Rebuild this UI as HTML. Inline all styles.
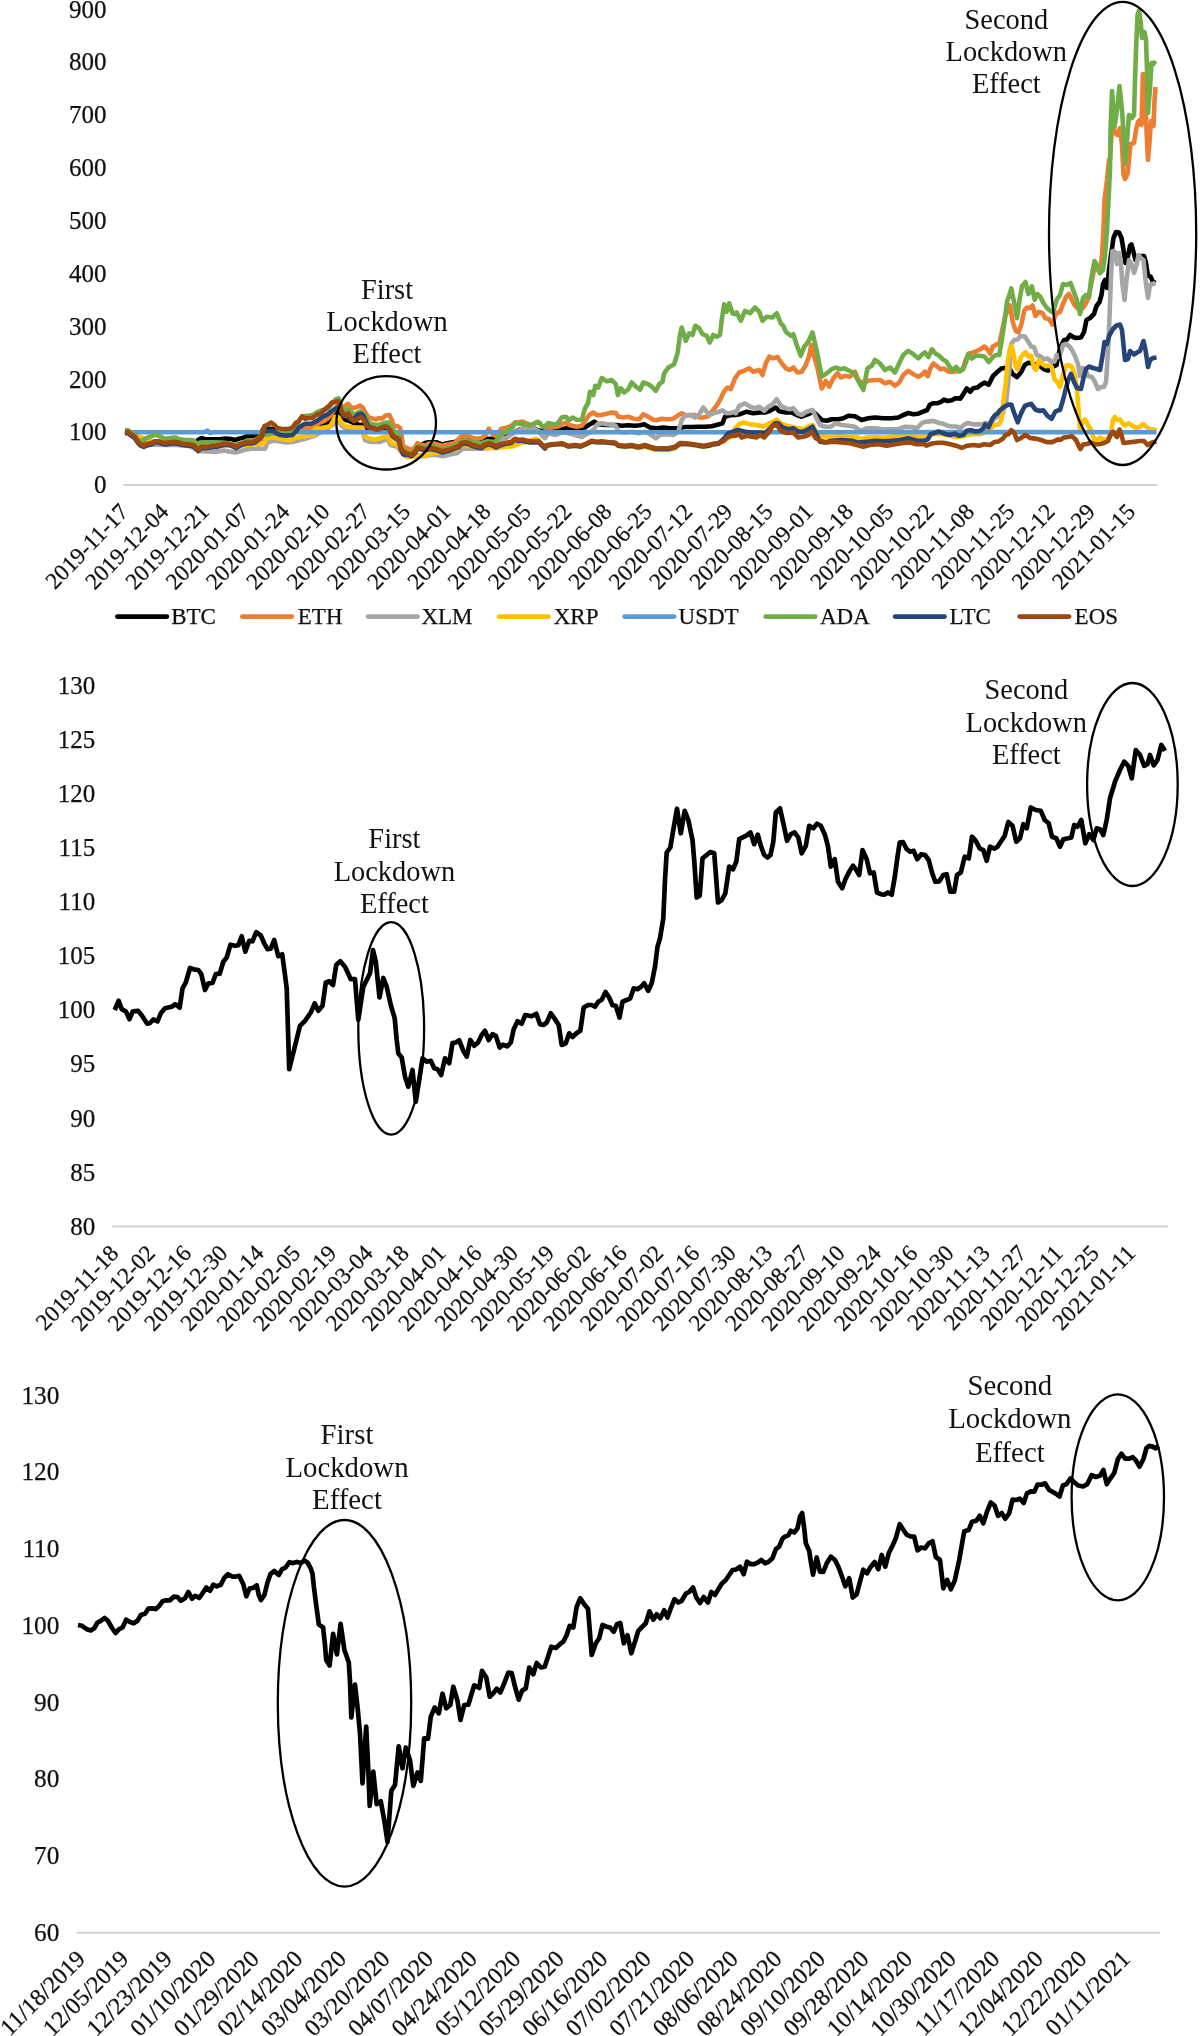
<!DOCTYPE html>
<html><head><meta charset="utf-8"><title>Figure</title>
<style>
html,body{margin:0;padding:0;background:#fff;}
body{width:1200px;height:2036px;overflow:hidden;}
svg{display:block;will-change:transform;}
text{font-family:"Liberation Serif", serif;fill:#111;}
.t{font-size:25px;}
.r{font-size:23.5px;}
.l{font-size:23px;}
.t,.r,.l{stroke:#111;stroke-width:0.25px;}
.a{font-size:28px;text-anchor:middle;}
</style></head><body>
<svg width="1200" height="2036" viewBox="0 0 1200 2036">
<rect width="1200" height="2036" fill="#fff"/>
<line x1="123.3" y1="484.9" x2="1157.5" y2="484.9" stroke="#d2d2d2" stroke-width="2"/>
<text class="t" x="106.6" y="493.2" text-anchor="end">0</text>
<text class="t" x="106.6" y="440.3" text-anchor="end">100</text>
<text class="t" x="106.6" y="387.5" text-anchor="end">200</text>
<text class="t" x="106.6" y="334.6" text-anchor="end">300</text>
<text class="t" x="106.6" y="281.8" text-anchor="end">400</text>
<text class="t" x="106.6" y="228.9" text-anchor="end">500</text>
<text class="t" x="106.6" y="176.1" text-anchor="end">600</text>
<text class="t" x="106.6" y="123.2" text-anchor="end">700</text>
<text class="t" x="106.6" y="70.4" text-anchor="end">800</text>
<text class="t" x="106.6" y="17.5" text-anchor="end">900</text>
<text class="r" style="font-size:23.2px" text-anchor="end" transform="translate(129.6,513.0) rotate(-46)">2019-11-17</text>
<text class="r" style="font-size:23.2px" text-anchor="end" transform="translate(169.9,513.0) rotate(-46)">2019-12-04</text>
<text class="r" style="font-size:23.2px" text-anchor="end" transform="translate(210.2,513.0) rotate(-46)">2019-12-21</text>
<text class="r" style="font-size:23.2px" text-anchor="end" transform="translate(250.4,513.0) rotate(-46)">2020-01-07</text>
<text class="r" style="font-size:23.2px" text-anchor="end" transform="translate(290.7,513.0) rotate(-46)">2020-01-24</text>
<text class="r" style="font-size:23.2px" text-anchor="end" transform="translate(331.0,513.0) rotate(-46)">2020-02-10</text>
<text class="r" style="font-size:23.2px" text-anchor="end" transform="translate(371.3,513.0) rotate(-46)">2020-02-27</text>
<text class="r" style="font-size:23.2px" text-anchor="end" transform="translate(411.6,513.0) rotate(-46)">2020-03-15</text>
<text class="r" style="font-size:23.2px" text-anchor="end" transform="translate(451.8,513.0) rotate(-46)">2020-04-01</text>
<text class="r" style="font-size:23.2px" text-anchor="end" transform="translate(492.1,513.0) rotate(-46)">2020-04-18</text>
<text class="r" style="font-size:23.2px" text-anchor="end" transform="translate(532.4,513.0) rotate(-46)">2020-05-05</text>
<text class="r" style="font-size:23.2px" text-anchor="end" transform="translate(572.7,513.0) rotate(-46)">2020-05-22</text>
<text class="r" style="font-size:23.2px" text-anchor="end" transform="translate(613.0,513.0) rotate(-46)">2020-06-08</text>
<text class="r" style="font-size:23.2px" text-anchor="end" transform="translate(653.2,513.0) rotate(-46)">2020-06-25</text>
<text class="r" style="font-size:23.2px" text-anchor="end" transform="translate(693.5,513.0) rotate(-46)">2020-07-12</text>
<text class="r" style="font-size:23.2px" text-anchor="end" transform="translate(733.8,513.0) rotate(-46)">2020-07-29</text>
<text class="r" style="font-size:23.2px" text-anchor="end" transform="translate(774.1,513.0) rotate(-46)">2020-08-15</text>
<text class="r" style="font-size:23.2px" text-anchor="end" transform="translate(814.4,513.0) rotate(-46)">2020-09-01</text>
<text class="r" style="font-size:23.2px" text-anchor="end" transform="translate(854.6,513.0) rotate(-46)">2020-09-18</text>
<text class="r" style="font-size:23.2px" text-anchor="end" transform="translate(894.9,513.0) rotate(-46)">2020-10-05</text>
<text class="r" style="font-size:23.2px" text-anchor="end" transform="translate(935.2,513.0) rotate(-46)">2020-10-22</text>
<text class="r" style="font-size:23.2px" text-anchor="end" transform="translate(975.5,513.0) rotate(-46)">2020-11-08</text>
<text class="r" style="font-size:23.2px" text-anchor="end" transform="translate(1015.8,513.0) rotate(-46)">2020-11-25</text>
<text class="r" style="font-size:23.2px" text-anchor="end" transform="translate(1056.0,513.0) rotate(-46)">2020-12-12</text>
<text class="r" style="font-size:23.2px" text-anchor="end" transform="translate(1096.3,513.0) rotate(-46)">2020-12-29</text>
<text class="r" style="font-size:23.2px" text-anchor="end" transform="translate(1136.6,513.0) rotate(-46)">2021-01-15</text>
<polyline points="125.0,431.2 131.2,433.8 137.5,440.0 143.8,443.8 152.5,442.5 165.0,442.5 177.5,441.9 190.0,443.1 196.2,442.5 198.1,440.0 201.2,438.1 206.2,439.4 215.0,439.4 221.2,439.0 226.2,438.5 231.2,439.0 235.0,440.0 238.8,438.8 242.5,438.1 246.2,436.2 252.5,436.2 256.2,435.6 260.0,433.8 264.4,427.5 265.0,430.0 271.2,428.8 280.0,431.2 290.0,431.9 296.2,428.8 302.5,426.2 307.5,425.6 311.2,425.6 315.0,424.4 320.0,423.8 325.0,423.1 330.0,422.5 332.5,418.8 335.0,413.8 337.5,410.0 340.0,412.5 342.5,417.5 346.2,420.0 350.0,421.2 355.0,423.8 360.0,425.0 362.5,424.8 365.6,427.5 368.8,428.8 373.8,429.4 380.0,429.4 385.0,428.1 388.8,428.8 392.5,435.0 396.2,437.5 398.8,438.8 400.6,447.5 403.1,451.2 405.0,452.5 406.2,452.5 411.2,453.8 415.0,450.0 417.5,445.6 421.2,445.0 425.0,443.1 428.8,442.2 436.2,442.2 441.9,444.4 445.0,443.8 451.2,442.5 454.4,441.9 458.8,440.6 461.2,438.8 465.0,438.1 472.5,440.0 481.2,440.6 486.2,438.8 492.5,438.8 496.2,440.0 501.2,438.1 507.5,436.2 513.8,432.5 520.0,429.4 526.2,428.1 532.5,427.8 538.8,430.6 545.0,431.9 551.7,431.7 560.0,430.0 568.3,427.5 576.7,428.3 585.0,427.5 590.0,424.2 594.2,421.7 597.5,424.2 606.7,425.0 616.7,425.0 621.7,425.8 628.3,425.3 635.0,425.8 640.0,425.3 644.2,424.2 650.0,427.5 656.7,428.3 663.3,427.5 670.0,428.3 678.3,428.0 685.0,427.0 691.7,427.0 698.3,426.7 705.0,426.7 711.7,426.3 717.5,424.7 722.5,423.3 725.0,416.7 730.0,415.3 735.0,415.0 740.0,414.2 746.7,411.7 753.3,413.3 760.0,412.5 765.0,412.5 770.0,410.8 775.8,407.5 779.2,411.3 785.8,412.5 791.7,412.5 796.7,415.0 801.7,416.7 808.3,414.2 813.3,411.7 816.7,415.0 821.7,420.0 826.7,420.8 831.7,419.2 838.3,419.2 843.3,418.3 848.3,415.8 855.0,416.3 861.7,420.0 868.3,418.3 875.0,417.5 883.3,418.3 891.7,418.3 898.3,417.5 903.3,415.0 908.3,413.0 913.3,414.2 918.3,413.7 925.0,410.8 927.0,410.2 929.9,404.6 933.4,403.2 937.7,403.2 941.2,401.8 944.0,399.6 947.6,401.0 951.8,400.3 955.4,398.2 960.3,398.6 963.9,393.2 966.7,388.3 970.2,391.8 973.1,388.3 977.3,387.6 980.9,384.8 984.4,382.6 988.7,384.8 992.9,376.2 997.2,372.0 1001.4,368.5 1005.7,367.8 1009.2,367.8 1012.8,374.1 1017.0,377.0 1021.2,372.0 1024.8,364.9 1028.3,362.8 1032.6,363.5 1036.8,364.9 1040.4,366.3 1043.9,369.2 1048.2,370.6 1052.4,367.0 1056.7,364.9 1057.0,362.0 1060.0,348.0 1064.0,340.0 1067.0,339.5 1070.0,335.0 1073.0,337.0 1076.0,338.0 1081.0,337.5 1084.0,332.0 1086.5,320.0 1090.0,318.0 1094.0,314.0 1096.5,306.0 1099.5,302.0 1101.5,295.0 1103.0,284.0 1105.0,280.0 1107.0,288.0 1109.0,270.0 1111.0,255.0 1113.5,238.0 1116.0,232.0 1119.0,232.5 1121.5,238.0 1123.5,250.0 1125.5,263.0 1128.0,256.0 1130.0,246.0 1131.5,244.5 1133.5,252.0 1135.5,260.0 1139.0,257.0 1141.5,256.0 1144.0,256.0 1146.0,263.0 1148.0,276.0 1150.5,276.5 1152.5,281.0 1155.0,283.0" fill="none" stroke="#000000" stroke-width="4.6" stroke-linejoin="round" stroke-linecap="butt"/>
<polyline points="125.0,431.9 128.1,431.9 131.2,434.4 135.0,436.9 138.1,441.5 140.6,444.0 143.8,445.0 147.5,443.5 155.0,441.2 162.5,442.5 170.0,442.2 177.5,442.2 185.0,443.8 192.5,444.5 198.1,448.8 201.2,446.5 208.8,446.2 216.2,445.6 223.8,444.0 231.2,444.5 236.2,446.5 240.0,444.5 247.5,442.5 252.5,443.5 258.8,444.4 264.4,440.0 267.5,435.0 273.8,432.5 280.0,433.8 290.0,435.0 296.2,431.2 302.5,427.5 310.0,428.1 315.0,425.6 320.0,422.5 325.0,420.6 330.0,416.2 335.0,408.8 337.5,405.6 340.0,410.0 342.5,408.8 345.6,405.6 348.1,403.8 350.6,406.9 353.8,408.1 356.9,406.9 360.0,405.6 363.1,408.1 366.2,413.8 368.8,417.5 372.5,418.5 376.2,419.4 378.8,418.1 381.9,418.8 385.6,415.6 389.4,415.0 391.9,420.0 393.8,426.2 397.5,426.2 400.0,428.1 401.5,435.0 402.8,445.0 405.0,447.5 406.2,447.5 411.2,450.0 415.0,447.5 417.5,443.1 421.2,445.0 425.0,445.6 428.8,443.8 432.5,443.1 437.5,444.4 441.9,445.6 445.0,445.0 450.0,444.0 454.4,443.1 458.8,438.8 461.2,436.2 465.0,435.6 468.8,436.0 472.5,438.1 477.5,438.8 481.2,438.1 485.0,435.6 488.8,428.8 492.5,433.8 495.0,435.6 498.8,432.5 501.2,428.8 505.0,428.1 508.8,426.9 512.5,425.0 515.0,422.2 518.8,422.5 522.5,421.5 526.2,423.1 530.0,425.0 533.8,424.4 537.5,422.2 540.0,423.5 542.5,426.9 545.0,426.2 551.7,427.5 557.5,426.7 561.7,424.2 565.8,422.5 569.2,425.0 576.7,426.7 581.7,425.8 585.8,420.0 589.2,415.0 593.3,412.5 597.5,415.3 601.7,414.7 606.7,413.7 611.7,412.5 615.8,413.0 618.3,416.7 623.3,417.5 628.3,416.7 633.3,418.7 639.2,419.2 643.3,414.2 648.3,416.7 653.3,419.7 656.7,420.3 661.7,418.7 666.7,419.2 673.3,418.7 677.5,415.8 681.7,413.3 685.8,415.0 690.8,415.3 695.0,415.0 699.2,417.5 703.3,417.5 708.3,416.3 711.7,411.7 715.8,406.7 720.0,400.0 724.2,391.3 727.5,387.5 730.8,389.2 735.0,378.3 739.2,372.5 744.2,370.8 749.2,368.3 753.3,371.7 759.2,370.0 762.5,375.0 765.8,363.3 769.2,356.7 773.3,358.3 777.5,357.0 781.7,363.3 785.8,368.3 790.0,370.0 793.3,367.5 797.5,372.5 801.7,371.7 805.8,365.0 809.2,355.8 811.3,345.0 814.2,356.7 817.5,368.3 821.7,388.3 825.8,380.8 829.2,386.7 833.3,378.3 837.5,373.3 840.8,377.5 845.0,375.8 850.0,376.7 855.0,371.7 858.3,380.0 863.3,383.3 868.3,380.8 875.0,380.0 880.0,380.0 885.0,383.3 890.0,381.7 895.0,385.8 899.2,382.5 903.3,375.0 908.3,370.8 913.3,374.2 918.3,376.7 922.5,374.2 925.0,371.7 927.8,376.2 930.6,367.8 933.4,363.5 937.0,366.3 940.5,369.2 944.0,368.5 947.6,371.3 951.8,372.0 956.1,371.3 960.3,371.3 963.2,367.8 965.3,360.7 968.8,353.6 971.7,352.9 975.9,351.5 980.2,349.3 984.4,346.5 988.0,350.0 990.1,353.6 992.9,346.5 996.5,344.4 999.3,343.7 1002.1,330.9 1005.0,316.8 1007.1,311.1 1009.9,305.4 1012.8,322.4 1015.6,330.9 1018.4,332.3 1021.2,325.2 1024.1,311.1 1026.9,307.5 1029.8,308.2 1032.6,305.4 1035.4,316.0 1039.0,311.8 1042.5,313.2 1045.3,318.2 1048.9,318.9 1052.4,324.5 1055.2,315.3 1059.5,311.1 1060.0,312.0 1063.0,304.0 1066.0,297.0 1069.0,294.0 1072.0,300.0 1075.0,306.0 1077.5,308.0 1081.0,310.0 1085.0,305.0 1088.5,298.0 1091.0,285.0 1094.0,270.0 1097.0,268.0 1100.0,273.0 1102.0,255.0 1103.5,230.0 1104.5,200.0 1107.0,180.0 1109.0,160.0 1110.0,160.0 1111.5,135.0 1113.0,125.0 1115.0,133.0 1117.5,135.0 1120.0,128.0 1122.0,145.0 1123.5,175.0 1125.0,179.0 1127.5,174.0 1129.5,155.0 1130.5,144.0 1134.0,143.0 1136.0,130.0 1138.0,122.0 1140.0,120.0 1141.5,125.0 1142.5,90.0 1143.0,74.0 1144.5,100.0 1146.0,118.0 1147.2,145.0 1148.0,160.0 1149.5,142.0 1151.0,121.0 1153.5,126.0 1154.5,100.0 1155.5,87.0" fill="none" stroke="#ed7d31" stroke-width="4.6" stroke-linejoin="round" stroke-linecap="butt"/>
<polyline points="125.0,431.9 131.2,434.4 138.1,442.5 143.8,446.2 152.5,444.4 165.0,445.0 177.5,445.0 190.0,446.2 197.5,450.6 202.5,451.2 215.0,451.9 223.8,450.6 235.0,452.5 240.0,451.2 246.2,449.4 252.5,448.8 265.0,448.8 267.5,442.5 273.8,440.6 286.2,442.5 292.5,441.9 305.0,438.8 315.0,435.6 325.0,430.0 332.5,425.0 335.6,420.0 338.1,420.6 341.2,425.0 345.0,428.1 355.0,429.4 362.5,430.0 365.0,440.0 370.0,441.9 380.0,441.9 387.5,438.8 390.6,445.0 397.5,446.9 400.6,451.2 403.1,454.4 405.0,455.6 407.5,456.9 417.5,456.2 425.0,456.2 432.5,454.8 437.5,455.0 442.5,456.2 450.0,454.4 457.5,453.1 462.5,448.8 470.0,448.8 482.5,448.8 492.5,447.5 497.5,443.8 501.2,438.8 507.5,437.5 513.8,432.5 520.0,430.0 522.5,428.1 527.5,427.5 532.5,428.1 538.8,431.2 542.5,436.2 545.0,438.1 548.3,433.3 555.0,435.0 561.7,432.5 568.3,433.3 575.0,435.0 581.7,437.0 588.3,433.3 593.3,430.0 597.5,424.2 601.7,423.3 606.7,424.2 611.7,424.7 615.8,425.8 618.3,431.7 625.0,432.5 631.7,431.7 638.3,433.3 645.0,431.7 650.0,434.2 655.8,438.3 660.0,435.0 666.7,434.2 673.3,435.0 678.3,431.7 681.7,420.0 685.0,415.8 690.0,414.7 695.0,417.5 699.2,414.2 703.3,407.5 709.2,415.0 714.2,413.0 718.3,412.0 722.5,410.3 726.7,413.3 730.8,413.0 735.0,411.7 735.8,413.3 739.2,405.8 745.0,403.3 750.0,406.7 755.0,408.3 759.2,406.7 764.2,410.8 768.3,406.7 772.5,404.2 776.7,399.2 780.8,405.8 785.8,408.3 790.0,409.2 793.3,408.3 797.5,413.3 801.7,415.0 806.7,411.7 812.5,410.0 815.8,416.7 820.0,425.0 825.0,426.7 830.8,426.7 835.8,423.3 841.7,425.0 848.3,425.8 855.0,426.7 860.0,430.8 866.7,428.3 875.0,428.3 883.3,429.2 891.7,429.2 898.3,429.2 905.0,426.7 911.7,427.0 916.7,428.3 921.7,423.3 925.0,421.7 927.8,421.6 933.4,420.9 939.1,423.0 943.3,423.7 947.6,425.8 951.8,426.5 956.1,426.5 960.3,428.0 964.6,424.4 968.1,423.0 973.1,424.4 977.3,424.4 981.6,424.4 985.8,423.0 990.1,423.7 994.3,418.8 998.6,415.9 1002.8,413.1 1006.4,400.3 1009.2,372.0 1011.3,343.7 1014.2,340.1 1017.7,339.4 1020.5,335.9 1024.8,336.6 1027.6,340.8 1031.2,346.5 1034.0,347.2 1036.8,355.0 1040.4,356.4 1043.9,359.2 1047.5,358.5 1051.7,362.1 1054.5,361.4 1056.7,355.0 1058.8,357.1 1060.0,355.0 1063.0,345.0 1066.0,344.0 1069.0,346.0 1072.0,350.0 1075.0,356.0 1078.0,364.0 1080.0,376.0 1082.5,368.0 1085.0,369.0 1088.0,376.0 1092.0,377.0 1095.0,382.0 1098.0,389.0 1101.0,387.0 1104.0,387.0 1106.0,382.0 1107.5,360.0 1109.0,330.0 1110.5,290.0 1111.5,265.0 1112.5,251.0 1115.0,252.0 1117.0,264.0 1119.0,253.0 1121.0,265.0 1122.5,285.0 1124.5,300.0 1126.5,280.0 1129.0,260.0 1132.0,265.0 1134.0,273.0 1136.5,265.0 1138.5,255.0 1141.0,258.0 1143.5,260.0 1145.5,280.0 1148.0,298.0 1150.0,285.0 1152.5,284.0 1155.5,283.0" fill="none" stroke="#a5a5a5" stroke-width="4.6" stroke-linejoin="round" stroke-linecap="butt"/>
<polyline points="125.0,431.2 131.2,433.8 135.0,435.6 139.4,436.9 143.8,438.1 147.5,440.0 152.5,441.2 158.8,441.9 165.0,442.5 175.0,442.5 185.0,443.1 192.5,443.8 197.5,448.1 202.5,446.9 212.5,446.2 221.2,445.0 231.2,445.6 236.2,447.5 243.8,445.0 251.2,444.4 258.8,443.8 264.4,443.1 266.2,438.1 273.8,437.5 280.0,438.8 290.0,440.6 296.2,437.5 305.0,436.2 313.8,435.0 315.0,428.8 325.0,427.5 330.0,426.2 333.1,421.2 335.0,416.9 338.8,417.5 341.2,422.5 345.0,426.2 355.0,427.5 362.5,427.5 365.0,436.2 367.5,438.1 375.0,439.4 382.5,437.5 387.5,436.2 390.6,441.2 392.5,443.8 397.5,444.4 400.6,450.0 403.1,453.1 405.0,455.0 407.5,456.9 420.0,455.0 426.2,455.6 432.5,453.1 437.5,452.5 441.9,451.9 450.0,450.6 457.5,448.8 462.5,445.0 470.0,446.2 482.5,447.5 495.0,448.1 503.8,446.9 513.8,446.2 520.0,443.1 526.2,441.9 536.2,438.8 538.8,441.2 542.5,445.0 545.0,447.5 546.7,445.8 551.7,445.0 557.5,444.3 562.5,444.0 568.3,446.7 575.0,445.8 580.8,446.7 586.7,444.2 591.7,441.7 596.7,442.5 601.7,442.0 608.3,442.7 615.0,443.3 618.3,446.0 625.0,447.0 631.7,446.3 638.3,448.0 645.0,446.7 650.0,448.3 655.0,449.7 661.7,450.0 668.3,450.0 675.0,448.3 680.0,444.2 685.0,444.3 690.0,444.7 696.7,445.7 703.3,446.7 708.3,446.0 713.3,444.7 718.3,443.7 723.3,441.7 728.3,437.7 733.3,436.2 735.0,428.3 739.2,424.2 743.3,422.5 750.0,424.2 756.7,425.0 763.3,426.7 769.2,423.3 773.3,421.7 776.7,419.7 780.8,423.3 786.7,425.8 791.7,426.7 798.3,428.3 803.3,429.2 808.3,426.7 812.5,425.0 815.8,430.8 820.0,435.8 828.3,436.7 838.3,436.3 848.3,436.7 856.7,437.0 861.7,439.2 866.7,437.5 875.0,437.0 883.3,437.5 891.7,436.7 900.0,435.8 908.3,435.0 916.7,436.7 925.0,436.7 926.3,436.5 929.2,434.3 936.2,433.6 943.3,434.3 950.4,435.8 957.5,437.2 964.6,435.8 971.7,434.3 978.8,434.3 984.4,432.9 990.1,428.7 994.3,425.1 998.6,424.4 1001.4,420.2 1003.5,400.3 1005.7,383.3 1007.8,362.1 1009.9,348.6 1011.3,345.8 1013.5,353.6 1015.6,366.3 1017.7,369.2 1020.5,357.8 1022.7,355.0 1025.5,352.2 1028.3,356.4 1031.2,355.7 1034.0,367.8 1036.1,369.9 1039.0,360.0 1042.5,364.2 1046.0,366.3 1048.9,365.6 1051.7,367.0 1054.5,379.1 1058.1,383.3 1060.0,387.0 1063.0,375.0 1066.0,366.0 1069.0,365.0 1072.0,367.0 1075.0,376.0 1077.0,390.0 1078.5,410.0 1080.0,429.0 1082.5,422.0 1085.0,419.5 1088.0,425.0 1091.0,430.0 1094.0,439.0 1097.0,440.0 1100.0,437.5 1104.0,440.0 1108.0,438.0 1111.0,433.0 1113.0,420.0 1114.8,417.0 1117.5,420.0 1120.0,419.5 1123.0,424.0 1125.5,425.5 1128.5,423.0 1132.0,425.5 1136.0,428.0 1140.0,427.0 1143.0,424.0 1146.0,426.5 1150.0,429.5 1154.0,429.5 1156.5,430.0" fill="none" stroke="#ffc000" stroke-width="4.6" stroke-linejoin="round" stroke-linecap="butt"/>
<polyline points="125.0,432.2 204.0,432.2 207.5,430.6 210.0,433.0 212.5,432.2 400.0,432.2 700.0,432.2 1000.0,432.1 1156.5,432.2" fill="none" stroke="#5b9bd5" stroke-width="4.6" stroke-linejoin="round" stroke-linecap="butt"/>
<polyline points="125.0,430.6 128.1,430.2 131.2,433.1 135.0,435.6 138.1,440.0 141.2,441.2 146.2,438.1 151.2,436.2 155.6,434.8 160.0,436.2 165.0,438.8 170.0,438.1 175.0,437.5 180.0,439.4 185.0,440.0 190.0,440.0 193.8,440.6 196.9,443.8 200.0,442.5 205.0,442.2 212.5,442.2 221.2,442.5 227.5,443.1 233.8,445.0 240.0,443.1 247.5,441.2 255.0,440.0 258.8,437.5 261.9,434.4 264.4,427.5 266.2,435.0 271.2,433.8 280.0,433.1 288.8,432.5 293.8,428.8 297.5,423.8 300.0,418.8 305.0,416.0 310.0,415.6 313.8,414.4 317.5,411.9 322.5,410.0 327.5,408.8 330.0,406.2 333.1,402.5 335.6,399.4 338.8,398.5 340.6,403.8 342.5,408.1 345.0,411.9 348.1,409.4 351.2,411.9 353.8,415.0 358.8,411.9 362.5,411.9 366.2,417.5 368.8,422.5 372.5,424.4 377.5,425.0 382.5,423.8 386.2,422.5 389.4,422.5 392.5,428.8 396.2,433.8 398.8,435.0 400.6,445.0 403.1,450.0 405.0,452.5 406.2,451.9 411.2,453.8 415.0,450.6 417.5,446.2 421.2,446.9 425.0,448.1 428.8,446.2 432.5,446.2 437.5,447.5 441.9,449.4 445.0,448.8 450.0,447.5 454.4,445.6 458.8,443.8 461.2,441.2 465.0,440.0 472.5,442.2 481.2,443.1 487.5,441.2 492.5,441.9 496.2,441.2 499.4,436.2 502.5,433.8 506.2,431.9 508.8,429.4 512.5,427.5 515.0,423.1 518.8,423.8 522.5,423.5 526.2,425.0 530.0,425.6 533.8,423.5 537.5,421.9 540.0,423.1 542.5,426.9 545.0,426.2 548.3,423.0 553.3,424.2 557.5,423.7 561.7,417.5 565.8,416.7 569.2,420.3 572.5,417.5 576.7,419.7 581.7,420.0 585.0,408.3 588.0,403.3 590.0,391.7 593.3,395.0 595.3,385.8 598.3,387.5 601.7,378.0 606.7,381.3 611.7,380.0 615.8,384.2 617.8,395.0 620.8,388.3 624.2,392.5 628.3,389.2 631.7,382.5 635.8,386.7 640.0,389.7 643.3,382.5 648.3,384.2 651.7,386.7 655.8,390.8 659.2,384.2 662.5,381.7 664.2,373.3 668.3,367.5 674.2,364.2 677.5,353.3 680.0,335.0 681.7,327.5 685.8,340.8 689.2,333.3 692.5,335.0 695.3,325.8 699.2,328.3 702.5,334.2 706.7,335.8 709.7,342.5 713.3,335.0 716.7,336.7 720.0,335.0 721.7,320.0 724.2,304.2 726.7,311.7 729.2,303.3 732.5,313.3 735.0,314.2 736.7,312.5 740.8,320.8 745.0,310.8 750.0,313.3 755.0,307.5 759.2,311.7 762.5,320.8 766.7,316.7 772.5,317.5 776.7,313.3 780.8,323.3 783.3,325.8 785.8,331.7 790.8,335.8 793.3,334.2 796.7,345.0 800.8,355.8 804.2,346.7 808.3,341.7 812.5,332.5 815.8,346.7 818.3,358.3 821.7,376.7 826.7,373.3 831.7,369.2 835.8,367.5 840.0,369.2 844.2,368.3 849.2,370.8 854.2,373.3 858.3,380.8 863.3,390.0 867.5,368.3 871.7,365.8 875.0,360.0 880.0,363.3 885.0,370.0 890.0,367.5 895.0,372.5 899.2,363.3 903.3,355.0 908.3,350.8 913.3,354.2 918.3,358.3 922.5,354.2 925.0,352.5 928.5,357.1 932.0,349.3 935.5,353.6 939.1,355.7 942.6,359.2 946.2,361.4 949.7,367.0 952.5,370.6 956.1,367.0 959.6,371.3 963.2,369.2 966.0,362.1 968.1,354.3 971.7,358.5 975.9,355.7 980.2,355.7 984.4,356.4 988.7,362.1 992.2,357.8 995.8,355.0 999.3,355.0 1002.1,338.0 1005.0,318.2 1007.1,301.2 1009.2,295.5 1011.3,288.4 1014.2,302.6 1017.0,318.2 1019.8,298.3 1022.0,286.3 1025.5,282.0 1028.3,294.1 1031.9,286.3 1034.7,299.8 1037.5,294.1 1040.4,296.9 1043.2,302.6 1046.0,306.8 1049.6,310.4 1053.1,312.5 1056.7,299.8 1060.0,295.0 1063.0,284.0 1067.0,285.0 1070.5,283.0 1073.5,291.0 1076.5,299.0 1080.0,314.0 1083.0,298.0 1086.0,295.0 1089.0,297.0 1091.0,280.0 1094.5,261.0 1097.0,265.0 1100.0,273.0 1103.0,270.0 1105.0,255.0 1107.0,230.0 1108.5,200.0 1110.0,170.0 1110.5,130.0 1112.0,91.0 1114.5,127.0 1117.0,110.0 1119.5,86.0 1122.0,110.0 1124.0,140.0 1125.0,164.0 1127.0,140.0 1129.0,115.0 1132.0,118.0 1134.0,115.0 1135.0,80.0 1136.0,50.0 1137.5,15.0 1139.0,10.5 1140.5,20.0 1142.0,38.0 1144.5,32.0 1146.0,40.0 1147.0,70.0 1148.0,113.0 1150.0,88.0 1151.5,63.0 1153.5,64.0 1155.5,61.0" fill="none" stroke="#70ad47" stroke-width="4.6" stroke-linejoin="round" stroke-linecap="butt"/>
<polyline points="125.0,433.1 128.1,433.1 131.2,435.6 135.0,438.1 138.1,443.1 140.6,445.6 143.8,446.9 147.5,445.0 151.2,444.4 155.0,442.5 158.8,442.5 162.5,443.8 166.2,444.4 170.0,443.5 173.8,443.1 177.5,443.5 181.2,444.8 185.0,445.2 188.8,445.6 192.5,446.0 195.0,447.5 198.1,451.0 201.2,448.1 205.0,448.1 208.8,447.8 212.5,447.2 216.2,446.9 220.0,446.0 223.8,445.0 227.5,444.8 231.2,445.6 233.8,446.9 236.2,448.1 240.0,445.6 243.8,444.4 247.5,443.1 251.2,443.5 255.0,442.5 258.8,439.4 261.9,436.2 264.4,427.5 265.0,431.2 272.5,430.6 276.2,433.1 280.0,435.0 286.2,435.6 292.5,435.0 296.2,431.2 298.8,427.5 305.0,423.8 311.2,423.8 317.5,420.6 322.5,416.9 327.5,414.4 332.5,410.6 336.2,408.1 338.8,406.9 341.2,411.9 343.8,416.2 347.5,416.9 350.0,419.4 353.8,418.8 357.5,415.0 361.2,413.8 363.8,416.2 366.2,422.5 368.8,426.9 372.5,428.1 376.2,429.4 380.0,428.8 383.8,426.9 386.9,426.9 390.0,430.6 392.5,436.2 395.6,438.8 398.8,440.0 400.6,448.8 403.1,453.8 405.0,455.0 406.2,454.2 411.2,456.1 415.0,453.0 417.5,448.6 421.2,449.2 425.0,450.5 428.8,449.2 432.5,449.2 437.5,450.5 441.9,452.4 445.0,451.8 450.0,450.5 454.4,448.6 458.8,447.4 461.2,444.2 465.0,443.4 468.8,444.2 472.5,446.1 477.5,447.4 481.2,448.0 485.0,445.5 488.8,444.2 492.5,445.5 496.2,447.4 500.0,445.5 503.8,444.2 507.5,443.6 511.2,443.0 515.0,439.9 518.8,441.1 522.5,440.5 526.2,441.8 530.0,442.4 533.8,442.4 538.8,442.1 542.5,446.1 545.0,448.6 546.7,445.7 551.7,444.8 557.5,444.3 562.5,444.0 568.3,446.5 575.0,445.7 580.8,446.5 586.7,444.0 591.7,441.5 596.7,442.3 601.7,442.0 608.3,442.7 615.0,443.2 618.3,445.7 625.0,446.5 631.7,445.7 638.3,447.3 645.0,445.7 650.0,447.3 655.0,448.7 661.7,449.0 668.3,449.0 675.0,447.3 680.0,443.7 685.0,444.0 690.0,444.3 696.7,445.3 703.3,446.5 708.3,445.7 713.3,444.3 718.3,443.7 723.3,439.2 728.3,433.3 735.0,430.8 738.3,430.0 745.0,431.7 751.7,432.5 758.3,432.5 765.0,433.3 770.0,428.3 775.0,423.3 778.3,423.3 782.5,427.5 788.3,429.2 793.3,428.3 798.3,431.7 803.3,431.7 808.3,429.2 812.5,426.7 815.8,433.3 820.0,441.7 825.0,442.5 831.7,440.8 841.7,440.0 851.7,440.8 858.3,442.5 866.7,441.7 875.0,440.8 883.3,441.3 891.7,440.8 900.0,440.0 908.3,438.3 916.7,440.8 925.0,440.8 927.8,439.3 930.6,434.3 934.8,432.9 938.4,431.5 942.6,432.9 946.2,434.3 950.4,435.0 954.7,433.6 958.9,435.8 963.2,435.0 966.7,430.8 971.0,430.1 975.9,431.5 980.2,430.8 983.7,428.0 985.1,424.4 988.7,427.2 992.2,418.8 995.0,415.2 997.9,413.1 1000.0,410.2 1004.2,406.7 1008.5,404.6 1011.3,404.6 1014.2,413.1 1017.7,422.3 1021.2,413.1 1024.8,406.0 1028.3,404.6 1031.2,403.9 1035.4,409.5 1039.7,411.0 1043.2,410.2 1047.5,415.9 1051.7,418.8 1055.2,411.7 1058.8,410.2 1060.0,410.0 1063.0,400.0 1066.0,388.0 1068.5,379.0 1071.0,374.0 1074.0,382.0 1077.0,388.0 1081.0,389.0 1083.5,378.0 1086.0,369.0 1089.0,366.5 1093.0,368.0 1097.0,369.0 1100.0,370.0 1102.5,356.0 1104.5,342.0 1107.0,344.0 1109.5,335.0 1113.0,329.0 1116.5,325.5 1120.0,324.5 1122.0,330.0 1123.5,345.0 1125.0,360.0 1128.0,359.0 1130.0,351.0 1134.0,354.5 1137.0,352.5 1140.0,351.0 1143.5,341.0 1145.5,350.0 1148.0,367.0 1150.0,360.0 1153.0,358.0 1156.5,357.5" fill="none" stroke="#264478" stroke-width="4.6" stroke-linejoin="round" stroke-linecap="butt"/>
<polyline points="125.0,431.9 128.1,431.9 131.2,434.4 135.0,436.9 138.1,441.9 140.6,444.4 143.8,445.6 147.5,443.8 151.2,443.1 155.0,441.2 158.8,441.2 162.5,442.5 166.2,443.1 170.0,442.2 173.8,441.9 177.5,442.2 181.2,443.5 185.0,444.0 188.8,444.4 192.5,444.8 195.0,446.2 198.1,449.8 201.2,446.9 205.0,446.9 208.8,446.5 212.5,446.0 216.2,445.6 220.0,444.8 223.8,443.8 227.5,443.5 231.2,444.4 233.8,445.6 236.2,446.9 240.0,444.4 243.8,443.1 247.5,441.9 251.2,442.2 255.0,441.2 258.8,438.1 261.9,435.0 264.4,426.2 267.5,424.8 271.2,422.5 274.4,425.0 277.5,428.1 281.2,428.8 285.0,429.0 288.8,428.8 292.5,427.5 295.6,423.1 298.8,421.2 302.2,416.2 305.0,418.8 308.8,418.1 312.5,417.8 316.2,415.0 320.0,413.8 323.1,411.2 326.2,408.1 329.4,405.6 331.9,402.5 335.0,401.9 338.1,401.2 340.0,405.0 341.2,410.0 343.8,414.4 346.2,415.6 348.1,413.1 350.0,416.2 353.8,421.2 357.5,419.4 360.6,416.9 363.8,420.0 366.2,425.0 368.8,427.5 372.5,428.1 376.2,429.4 380.0,428.8 383.8,426.9 386.9,426.9 390.0,430.0 392.5,435.0 395.6,437.5 398.8,438.8 400.6,447.5 403.1,451.2 405.0,453.1 406.2,453.1 411.2,455.0 415.0,451.9 417.5,447.5 421.2,448.1 425.0,449.4 428.8,448.1 432.5,448.1 437.5,449.4 441.9,451.2 445.0,450.6 450.0,449.4 454.4,447.5 458.8,446.2 461.2,443.1 465.0,442.2 468.8,443.1 472.5,445.0 477.5,446.2 481.2,446.9 485.0,444.4 488.8,443.1 492.5,444.4 496.2,446.2 500.0,444.4 503.8,443.1 507.5,442.5 511.2,441.9 515.0,438.8 518.8,440.0 522.5,439.4 526.2,440.6 530.0,441.2 533.8,441.2 538.8,441.0 542.5,445.0 545.0,447.5 546.7,445.0 551.7,444.2 557.5,443.7 562.5,443.3 568.3,445.8 575.0,445.0 580.8,445.8 586.7,443.3 591.7,440.8 596.7,441.7 601.7,441.3 608.3,442.0 615.0,442.5 618.3,445.0 625.0,445.8 631.7,445.0 638.3,446.7 645.0,445.0 650.0,446.7 655.0,448.0 661.7,448.3 668.3,448.3 675.0,446.7 680.0,443.0 685.0,443.3 690.0,443.7 696.7,444.7 703.3,445.8 708.3,445.0 713.3,443.7 718.3,443.0 723.3,440.8 728.3,436.7 733.3,435.3 735.0,435.8 739.2,434.2 741.7,437.5 746.7,435.8 751.7,436.7 756.7,437.5 760.0,435.0 764.2,437.5 769.2,431.7 772.5,425.8 776.7,424.7 780.8,430.8 786.7,433.0 793.3,432.5 798.3,437.5 803.3,436.7 808.3,435.0 811.7,431.7 815.8,438.3 820.8,440.8 826.7,442.5 833.3,441.7 841.7,442.5 850.0,443.3 856.7,445.0 863.3,446.7 870.0,445.0 878.3,444.2 886.7,445.8 895.0,444.2 903.3,443.0 910.0,442.5 916.7,444.2 925.0,444.2 926.3,445.7 932.0,443.5 937.7,442.8 943.3,442.8 950.4,444.2 956.1,445.7 961.8,447.8 967.4,445.7 973.1,445.0 978.8,445.7 984.4,444.2 990.1,445.0 994.3,442.1 998.6,441.4 1002.8,438.6 1005.7,435.0 1008.5,434.3 1011.3,430.1 1014.2,432.9 1017.0,440.0 1021.2,437.9 1025.5,435.0 1029.8,437.9 1035.4,438.6 1041.1,440.0 1046.8,442.1 1052.4,442.1 1058.1,439.3 1060.0,440.0 1064.0,437.5 1068.0,437.0 1072.0,436.2 1076.0,440.0 1078.5,445.5 1080.5,449.0 1083.0,444.5 1087.0,444.0 1091.0,442.5 1095.0,444.5 1100.0,444.0 1104.0,443.0 1108.0,441.0 1111.0,434.0 1113.0,432.0 1117.0,437.0 1119.5,429.5 1121.5,435.0 1123.5,443.0 1128.0,442.5 1132.0,442.0 1136.0,441.5 1140.0,441.0 1144.0,441.0 1147.5,445.0 1151.0,443.0 1154.0,442.0 1156.5,441.5" fill="none" stroke="#9e480e" stroke-width="4.6" stroke-linejoin="round" stroke-linecap="butt"/>
<line x1="117.4" y1="616.6" x2="166.8" y2="616.6" stroke="#000000" stroke-width="4.8" stroke-linecap="round"/>
<text class="l" x="171.2" y="623.6">BTC</text>
<line x1="242.4" y1="616.6" x2="291.8" y2="616.6" stroke="#ed7d31" stroke-width="4.8" stroke-linecap="round"/>
<text class="l" x="297.8" y="623.6">ETH</text>
<line x1="368.1" y1="616.6" x2="417.5" y2="616.6" stroke="#a5a5a5" stroke-width="4.8" stroke-linecap="round"/>
<text class="l" x="421.4" y="623.6">XLM</text>
<line x1="499.1" y1="616.6" x2="548.5" y2="616.6" stroke="#ffc000" stroke-width="4.8" stroke-linecap="round"/>
<text class="l" x="553.7" y="623.6">XRP</text>
<line x1="624.7" y1="616.6" x2="674.1" y2="616.6" stroke="#5b9bd5" stroke-width="4.8" stroke-linecap="round"/>
<text class="l" x="678.6" y="623.6">USDT</text>
<line x1="765.7" y1="616.6" x2="815.1" y2="616.6" stroke="#70ad47" stroke-width="4.8" stroke-linecap="round"/>
<text class="l" x="820.0" y="623.6">ADA</text>
<line x1="895.1" y1="616.6" x2="944.5" y2="616.6" stroke="#264478" stroke-width="4.8" stroke-linecap="round"/>
<text class="l" x="949.6" y="623.6">LTC</text>
<line x1="1019.7" y1="616.6" x2="1069.1" y2="616.6" stroke="#9e480e" stroke-width="4.8" stroke-linecap="round"/>
<text class="l" x="1074.6" y="623.6">EOS</text>
<ellipse cx="386.2" cy="422.8" rx="49.8" ry="46.7" fill="none" stroke="#000" stroke-width="2.3"/>
<text class="a" style="font-size:28.4px" x="387" y="299">First</text>
<text class="a" style="font-size:28.4px" x="387" y="331.2">Lockdown</text>
<text class="a" style="font-size:28.4px" x="387" y="363.2">Effect</text>
<ellipse cx="1122.6" cy="233.4" rx="73.6" ry="231.6" fill="none" stroke="#000" stroke-width="2.3"/>
<text class="a" style="font-size:28.4px" x="1006.3" y="28.5">Second</text>
<text class="a" style="font-size:28.4px" x="1006.3" y="61">Lockdown</text>
<text class="a" style="font-size:28.4px" x="1006.3" y="93.1">Effect</text>
<line x1="112.3" y1="1226.4" x2="1168" y2="1226.4" stroke="#d2d2d2" stroke-width="2"/>
<text class="t" x="95.2" y="1234.6" text-anchor="end">80</text>
<text class="t" x="95.2" y="1180.5" text-anchor="end">85</text>
<text class="t" x="95.2" y="1126.5" text-anchor="end">90</text>
<text class="t" x="95.2" y="1072.4" text-anchor="end">95</text>
<text class="t" x="95.2" y="1018.4" text-anchor="end">100</text>
<text class="t" x="95.2" y="964.3" text-anchor="end">105</text>
<text class="t" x="95.2" y="910.2" text-anchor="end">110</text>
<text class="t" x="95.2" y="856.2" text-anchor="end">115</text>
<text class="t" x="95.2" y="802.1" text-anchor="end">120</text>
<text class="t" x="95.2" y="748.1" text-anchor="end">125</text>
<text class="t" x="95.2" y="694.0" text-anchor="end">130</text>
<text class="r" style="font-size:23.2px" text-anchor="end" transform="translate(119.9,1254.3) rotate(-46)">2019-11-18</text>
<text class="r" style="font-size:23.2px" text-anchor="end" transform="translate(156.2,1254.3) rotate(-46)">2019-12-02</text>
<text class="r" style="font-size:23.2px" text-anchor="end" transform="translate(192.5,1254.3) rotate(-46)">2019-12-16</text>
<text class="r" style="font-size:23.2px" text-anchor="end" transform="translate(228.8,1254.3) rotate(-46)">2019-12-30</text>
<text class="r" style="font-size:23.2px" text-anchor="end" transform="translate(265.1,1254.3) rotate(-46)">2020-01-14</text>
<text class="r" style="font-size:23.2px" text-anchor="end" transform="translate(301.5,1254.3) rotate(-46)">2020-02-05</text>
<text class="r" style="font-size:23.2px" text-anchor="end" transform="translate(337.8,1254.3) rotate(-46)">2020-02-19</text>
<text class="r" style="font-size:23.2px" text-anchor="end" transform="translate(374.1,1254.3) rotate(-46)">2020-03-04</text>
<text class="r" style="font-size:23.2px" text-anchor="end" transform="translate(410.4,1254.3) rotate(-46)">2020-03-18</text>
<text class="r" style="font-size:23.2px" text-anchor="end" transform="translate(446.7,1254.3) rotate(-46)">2020-04-01</text>
<text class="r" style="font-size:23.2px" text-anchor="end" transform="translate(483.0,1254.3) rotate(-46)">2020-04-16</text>
<text class="r" style="font-size:23.2px" text-anchor="end" transform="translate(519.3,1254.3) rotate(-46)">2020-04-30</text>
<text class="r" style="font-size:23.2px" text-anchor="end" transform="translate(555.6,1254.3) rotate(-46)">2020-05-19</text>
<text class="r" style="font-size:23.2px" text-anchor="end" transform="translate(591.9,1254.3) rotate(-46)">2020-06-02</text>
<text class="r" style="font-size:23.2px" text-anchor="end" transform="translate(628.2,1254.3) rotate(-46)">2020-06-16</text>
<text class="r" style="font-size:23.2px" text-anchor="end" transform="translate(664.6,1254.3) rotate(-46)">2020-07-02</text>
<text class="r" style="font-size:23.2px" text-anchor="end" transform="translate(700.9,1254.3) rotate(-46)">2020-07-16</text>
<text class="r" style="font-size:23.2px" text-anchor="end" transform="translate(737.2,1254.3) rotate(-46)">2020-07-30</text>
<text class="r" style="font-size:23.2px" text-anchor="end" transform="translate(773.5,1254.3) rotate(-46)">2020-08-13</text>
<text class="r" style="font-size:23.2px" text-anchor="end" transform="translate(809.8,1254.3) rotate(-46)">2020-08-27</text>
<text class="r" style="font-size:23.2px" text-anchor="end" transform="translate(846.1,1254.3) rotate(-46)">2020-09-10</text>
<text class="r" style="font-size:23.2px" text-anchor="end" transform="translate(882.4,1254.3) rotate(-46)">2020-09-24</text>
<text class="r" style="font-size:23.2px" text-anchor="end" transform="translate(918.7,1254.3) rotate(-46)">2020-10-16</text>
<text class="r" style="font-size:23.2px" text-anchor="end" transform="translate(955.0,1254.3) rotate(-46)">2020-10-30</text>
<text class="r" style="font-size:23.2px" text-anchor="end" transform="translate(991.3,1254.3) rotate(-46)">2020-11-13</text>
<text class="r" style="font-size:23.2px" text-anchor="end" transform="translate(1027.7,1254.3) rotate(-46)">2020-11-27</text>
<text class="r" style="font-size:23.2px" text-anchor="end" transform="translate(1064.0,1254.3) rotate(-46)">2020-12-11</text>
<text class="r" style="font-size:23.2px" text-anchor="end" transform="translate(1100.3,1254.3) rotate(-46)">2020-12-25</text>
<text class="r" style="font-size:23.2px" text-anchor="end" transform="translate(1136.6,1254.3) rotate(-46)">2021-01-11</text>
<polyline points="114.7,1010.0 118.7,1000.8 121.7,1009.2 125.8,1011.3 129.5,1019.2 132.8,1011.3 138.0,1010.8 141.7,1015.3 147.2,1023.7 150.0,1023.0 153.3,1019.5 157.5,1021.3 160.8,1013.3 165.0,1008.3 171.7,1006.7 175.3,1004.2 179.7,1007.5 182.5,988.3 185.8,982.5 190.0,968.0 195.0,969.7 198.3,970.0 201.3,974.2 205.0,990.0 208.3,983.3 212.5,983.0 215.8,974.2 219.7,973.7 223.3,961.7 226.7,957.5 230.5,944.7 235.0,945.8 238.3,945.3 241.7,936.3 245.3,951.7 249.2,940.8 252.5,941.3 256.2,932.2 260.8,935.5 264.2,943.3 267.5,949.2 270.8,948.7 274.2,940.0 278.3,956.3 282.2,954.2 285.0,975.0 286.7,988.3 289.2,1069.2 300.0,1025.8 305.0,1020.8 310.8,1012.5 314.7,1003.3 318.3,1010.8 322.5,1005.8 325.8,982.5 329.2,981.3 333.0,985.0 336.3,964.7 340.3,961.3 345.0,966.7 350.8,979.2 355.0,979.2 358.3,1019.7 363.3,986.7 366.7,980.0 370.0,973.3 373.0,950.0 375.8,961.7 379.5,997.5 383.3,978.0 386.7,986.7 390.8,1005.0 394.7,1018.3 396.7,1040.0 398.3,1053.3 401.7,1057.5 405.0,1076.7 408.3,1086.7 412.5,1070.0 415.8,1101.7 422.5,1058.3 426.7,1061.7 430.8,1060.8 434.2,1068.3 437.5,1069.2 441.2,1075.0 445.0,1058.3 449.2,1063.3 452.5,1043.0 455.8,1042.5 459.2,1040.3 463.3,1050.8 466.7,1056.7 466.7,1056.7 470.3,1040.0 474.2,1045.8 478.0,1042.5 481.7,1035.0 485.0,1030.8 488.7,1040.0 492.5,1034.2 495.8,1035.8 499.7,1047.5 503.0,1044.7 507.2,1046.3 510.8,1042.5 513.7,1029.2 517.5,1021.3 521.7,1023.7 525.3,1015.0 531.7,1016.3 536.3,1013.8 540.0,1024.2 543.3,1025.0 546.7,1022.5 550.8,1013.3 555.0,1019.2 558.7,1025.0 561.7,1045.0 565.8,1043.3 569.2,1033.3 572.5,1037.0 576.7,1033.0 580.3,1030.8 583.7,1007.5 588.0,1005.0 591.7,1005.0 595.0,1006.7 598.3,1001.7 601.7,999.7 605.5,992.0 609.2,997.5 612.5,1005.3 615.8,1005.8 619.5,1017.5 622.5,1001.7 626.7,1000.0 630.3,998.3 633.7,988.3 637.5,989.2 640.8,987.0 644.2,983.3 648.3,990.8 651.7,983.3 655.0,966.7 657.5,946.7 660.0,938.3 663.3,918.3 665.0,880.0 666.7,852.5 670.3,847.5 673.3,830.0 677.0,808.7 680.8,833.3 684.7,810.8 688.3,820.0 692.5,840.0 694.2,860.0 696.7,897.5 699.7,895.8 702.5,858.3 706.7,855.0 710.3,852.0 714.2,853.3 715.8,873.3 718.0,902.5 721.7,900.0 725.3,893.3 729.2,866.7 733.0,869.2 736.3,861.7 739.2,839.2 745.8,835.8 750.5,832.5 754.2,844.2 757.8,834.7 760.8,845.8 764.2,855.0 767.5,857.5 770.5,855.0 773.3,841.7 775.8,812.5 780.0,808.3 783.7,825.0 787.0,840.8 790.8,834.2 794.7,832.5 798.3,837.5 801.7,853.3 805.8,845.8 809.2,825.8 813.3,828.3 817.0,823.7 820.8,825.8 825.0,835.0 828.0,846.7 830.8,866.7 834.7,859.2 838.0,881.7 842.2,888.3 845.8,878.3 849.7,870.8 853.0,865.8 855.8,869.2 859.2,875.0 862.5,850.0 866.7,859.2 870.0,873.3 873.7,872.5 877.0,892.5 880.8,894.2 884.2,894.7 888.0,892.5 891.7,894.7 894.7,877.5 897.5,856.7 899.7,842.5 903.0,842.0 906.7,849.2 910.0,851.7 913.7,850.8 917.2,859.2 921.2,854.2 925.0,855.0 928.7,860.0 932.0,872.5 935.3,881.7 939.2,881.3 943.3,875.0 946.7,874.2 950.3,891.7 954.2,891.7 957.0,875.0 960.8,872.5 964.7,856.7 968.8,858.3 972.0,836.7 975.8,840.8 979.7,848.3 983.3,850.0 986.7,860.8 990.0,846.7 994.2,848.7 997.5,846.7 1000.8,841.7 1004.7,835.8 1008.3,822.0 1012.5,825.8 1016.3,841.7 1020.0,838.3 1023.3,824.2 1026.7,828.3 1030.8,807.5 1035.8,810.0 1040.8,810.8 1044.7,820.0 1048.7,823.3 1052.0,836.7 1056.3,838.3 1060.0,846.7 1063.3,839.2 1068.3,838.3 1071.3,837.5 1074.2,825.0 1077.5,826.7 1081.3,820.0 1085.3,843.3 1089.2,834.2 1093.3,840.0 1096.7,828.3 1100.0,829.2 1103.3,835.0 1106.7,820.0 1110.0,798.3 1115.0,781.7 1120.0,770.0 1124.2,761.7 1128.3,765.8 1131.7,778.3 1135.8,750.0 1140.0,755.0 1144.2,765.8 1147.5,764.2 1150.0,755.0 1153.7,765.3 1157.5,760.0 1161.3,745.0 1165.0,750.8" fill="none" stroke="#000" stroke-width="4.7" stroke-linejoin="round" stroke-linecap="butt"/>
<ellipse cx="391.2" cy="1028.4" rx="32.9" ry="106.2" fill="none" stroke="#000" stroke-width="2.3"/>
<text class="a" style="font-size:28.4px" x="394.4" y="848.1">First</text>
<text class="a" style="font-size:28.4px" x="394.4" y="880.6">Lockdown</text>
<text class="a" style="font-size:28.4px" x="394.4" y="912.8">Effect</text>
<ellipse cx="1132.4" cy="784.5" rx="45.3" ry="101.5" fill="none" stroke="#000" stroke-width="2.3"/>
<text class="a" style="font-size:28.4px" x="1026.3" y="699">Second</text>
<text class="a" style="font-size:28.4px" x="1026.3" y="731.9">Lockdown</text>
<text class="a" style="font-size:28.4px" x="1026.3" y="763.8">Effect</text>
<line x1="76.5" y1="1932.7" x2="1160" y2="1932.7" stroke="#d2d2d2" stroke-width="2"/>
<text class="t" style="font-size:25.3px" x="59.4" y="1940.7" text-anchor="end">60</text>
<text class="t" style="font-size:25.3px" x="59.4" y="1864.0" text-anchor="end">70</text>
<text class="t" style="font-size:25.3px" x="59.4" y="1787.2" text-anchor="end">80</text>
<text class="t" style="font-size:25.3px" x="59.4" y="1710.5" text-anchor="end">90</text>
<text class="t" style="font-size:25.3px" x="59.4" y="1633.7" text-anchor="end">100</text>
<text class="t" style="font-size:25.3px" x="59.4" y="1557.0" text-anchor="end">110</text>
<text class="t" style="font-size:25.3px" x="59.4" y="1480.3" text-anchor="end">120</text>
<text class="t" style="font-size:25.3px" x="59.4" y="1403.5" text-anchor="end">130</text>
<text class="r" style="font-size:24px" text-anchor="end" transform="translate(86.4,1960.2) rotate(-45)">11/18/2019</text>
<text class="r" style="font-size:24px" text-anchor="end" transform="translate(129.9,1960.2) rotate(-45)">12/05/2019</text>
<text class="r" style="font-size:24px" text-anchor="end" transform="translate(173.5,1960.2) rotate(-45)">12/23/2019</text>
<text class="r" style="font-size:24px" text-anchor="end" transform="translate(217.0,1960.2) rotate(-45)">01/10/2020</text>
<text class="r" style="font-size:24px" text-anchor="end" transform="translate(260.6,1960.2) rotate(-45)">01/29/2020</text>
<text class="r" style="font-size:24px" text-anchor="end" transform="translate(304.1,1960.2) rotate(-45)">02/14/2020</text>
<text class="r" style="font-size:24px" text-anchor="end" transform="translate(347.7,1960.2) rotate(-45)">03/04/2020</text>
<text class="r" style="font-size:24px" text-anchor="end" transform="translate(391.2,1960.2) rotate(-45)">03/20/2020</text>
<text class="r" style="font-size:24px" text-anchor="end" transform="translate(434.8,1960.2) rotate(-45)">04/07/2020</text>
<text class="r" style="font-size:24px" text-anchor="end" transform="translate(478.4,1960.2) rotate(-45)">04/24/2020</text>
<text class="r" style="font-size:24px" text-anchor="end" transform="translate(521.9,1960.2) rotate(-45)">05/12/2020</text>
<text class="r" style="font-size:24px" text-anchor="end" transform="translate(565.4,1960.2) rotate(-45)">05/29/2020</text>
<text class="r" style="font-size:24px" text-anchor="end" transform="translate(609.0,1960.2) rotate(-45)">06/16/2020</text>
<text class="r" style="font-size:24px" text-anchor="end" transform="translate(652.5,1960.2) rotate(-45)">07/02/2020</text>
<text class="r" style="font-size:24px" text-anchor="end" transform="translate(696.1,1960.2) rotate(-45)">07/21/2020</text>
<text class="r" style="font-size:24px" text-anchor="end" transform="translate(739.6,1960.2) rotate(-45)">08/06/2020</text>
<text class="r" style="font-size:24px" text-anchor="end" transform="translate(783.2,1960.2) rotate(-45)">08/24/2020</text>
<text class="r" style="font-size:24px" text-anchor="end" transform="translate(826.7,1960.2) rotate(-45)">09/10/2020</text>
<text class="r" style="font-size:24px" text-anchor="end" transform="translate(870.3,1960.2) rotate(-45)">09/28/2020</text>
<text class="r" style="font-size:24px" text-anchor="end" transform="translate(913.8,1960.2) rotate(-45)">10/14/2020</text>
<text class="r" style="font-size:24px" text-anchor="end" transform="translate(957.4,1960.2) rotate(-45)">10/30/2020</text>
<text class="r" style="font-size:24px" text-anchor="end" transform="translate(1000.9,1960.2) rotate(-45)">11/17/2020</text>
<text class="r" style="font-size:24px" text-anchor="end" transform="translate(1044.5,1960.2) rotate(-45)">12/04/2020</text>
<text class="r" style="font-size:24px" text-anchor="end" transform="translate(1088.0,1960.2) rotate(-45)">12/22/2020</text>
<text class="r" style="font-size:24px" text-anchor="end" transform="translate(1131.6,1960.2) rotate(-45)">01/11/2021</text>
<polyline points="78.0,1625.0 82.0,1625.8 86.7,1629.2 90.8,1630.5 94.2,1628.3 97.5,1622.5 100.8,1620.8 104.5,1618.0 108.0,1620.8 111.7,1627.5 115.5,1633.0 119.2,1629.2 122.5,1627.5 126.2,1619.7 130.0,1622.0 133.7,1623.3 137.5,1620.8 140.8,1615.0 145.0,1613.8 148.3,1608.7 152.5,1608.3 155.8,1609.2 159.2,1605.8 162.5,1601.3 166.3,1600.3 170.0,1600.3 173.7,1596.7 177.5,1597.0 180.8,1600.8 185.0,1598.3 188.3,1592.0 192.0,1598.7 195.3,1595.8 199.2,1598.0 202.5,1593.3 206.3,1587.5 210.0,1590.8 213.3,1584.7 216.7,1586.3 220.8,1584.7 224.2,1578.0 228.0,1574.2 231.7,1576.3 235.0,1576.7 239.2,1575.8 243.3,1584.2 246.3,1596.3 249.7,1588.3 253.0,1588.0 256.7,1585.3 258.8,1595.0 261.0,1600.0 264.4,1595.0 267.5,1582.5 270.6,1573.8 274.4,1571.0 278.8,1575.0 281.9,1569.4 285.6,1567.5 289.4,1562.2 293.1,1563.1 296.9,1561.9 300.6,1563.1 304.4,1560.6 307.5,1562.5 310.6,1568.1 312.5,1573.8 313.8,1586.2 316.2,1605.0 318.8,1624.4 323.1,1627.5 325.0,1645.0 326.2,1660.0 329.6,1665.6 333.1,1633.8 336.9,1654.4 340.6,1623.8 344.4,1650.0 348.8,1662.5 350.0,1681.7 351.3,1717.5 355.0,1684.7 357.5,1706.7 360.0,1733.3 362.5,1783.3 366.2,1726.7 368.3,1770.0 369.7,1805.8 373.3,1771.7 376.7,1804.2 380.8,1801.3 384.2,1820.0 387.5,1842.0 391.3,1790.8 395.0,1785.0 398.7,1746.3 402.5,1768.3 405.8,1747.5 410.0,1760.0 413.3,1785.8 417.5,1772.5 420.8,1780.8 424.2,1738.3 428.0,1738.7 430.8,1716.7 434.7,1707.5 438.8,1713.3 442.5,1693.7 446.3,1708.3 450.3,1705.0 453.3,1686.7 457.5,1700.8 460.5,1720.0 464.2,1705.0 468.3,1704.7 474.2,1685.3 479.2,1688.0 482.0,1670.8 486.3,1677.5 489.7,1696.7 493.3,1693.3 496.7,1688.7 500.3,1692.5 504.2,1683.3 508.3,1672.5 511.7,1673.0 515.0,1686.7 518.7,1699.7 522.0,1690.8 525.8,1688.3 529.2,1667.5 533.3,1674.2 536.7,1663.0 540.8,1667.5 544.7,1666.7 548.0,1656.7 551.3,1646.7 555.8,1648.0 560.0,1644.2 563.3,1641.7 566.7,1635.0 569.7,1625.8 573.3,1627.5 576.7,1606.7 580.3,1598.3 584.2,1604.2 588.0,1608.7 590.0,1633.3 591.7,1655.0 595.8,1643.3 599.2,1638.3 602.5,1625.0 606.7,1626.7 610.0,1627.5 613.7,1631.7 617.0,1624.2 620.3,1623.0 623.8,1643.3 627.5,1635.3 631.3,1653.3 635.0,1641.7 638.3,1630.8 642.0,1627.0 645.8,1623.3 649.5,1611.3 653.3,1619.7 656.7,1614.2 660.3,1618.3 664.2,1610.3 667.5,1617.5 670.8,1608.3 674.5,1599.2 678.3,1602.5 681.7,1600.8 685.8,1593.7 689.2,1592.0 693.0,1587.5 696.3,1597.5 700.0,1603.0 703.7,1597.0 708.0,1602.5 711.3,1592.0 715.0,1595.0 718.3,1589.2 721.7,1583.7 725.8,1580.0 729.2,1575.0 732.5,1570.0 735.8,1569.7 740.0,1566.7 743.7,1574.2 747.0,1561.7 750.8,1564.2 754.2,1564.2 757.8,1562.5 761.3,1560.0 765.0,1563.3 768.3,1562.0 772.5,1558.3 775.8,1549.2 779.2,1546.7 782.5,1538.7 785.0,1536.7 788.3,1535.3 790.8,1530.8 794.2,1532.5 797.5,1528.3 800.0,1516.7 802.2,1513.0 804.2,1528.3 805.8,1543.3 809.2,1550.8 810.8,1561.7 813.0,1574.7 816.7,1557.5 820.0,1571.7 823.3,1572.0 826.7,1563.3 830.8,1556.7 835.0,1560.0 838.7,1567.5 841.7,1575.8 845.3,1586.3 849.2,1578.3 852.8,1597.5 856.7,1594.2 860.0,1581.7 863.3,1569.7 867.0,1573.3 870.8,1566.7 874.7,1562.0 878.3,1569.2 881.7,1555.0 885.3,1566.7 888.7,1553.3 892.5,1545.8 895.8,1538.3 899.7,1524.2 903.3,1529.7 906.7,1534.7 910.3,1536.3 914.2,1536.7 917.5,1550.3 921.3,1547.5 925.0,1548.3 928.7,1543.3 932.5,1541.3 935.8,1557.0 940.0,1560.0 943.3,1588.3 947.2,1580.0 950.8,1589.2 954.7,1580.8 959.2,1560.0 964.2,1531.3 968.7,1530.0 972.0,1521.7 976.3,1520.8 979.7,1515.8 983.3,1523.3 987.0,1511.7 990.8,1502.5 994.7,1505.8 998.0,1515.8 1001.7,1513.0 1005.3,1518.7 1009.2,1513.3 1012.5,1499.7 1016.3,1500.0 1020.0,1498.7 1023.7,1503.0 1027.0,1493.3 1030.8,1491.3 1034.2,1491.7 1037.5,1484.7 1041.3,1484.7 1045.0,1483.3 1049.2,1490.0 1052.7,1491.9 1056.2,1494.0 1059.5,1496.5 1062.9,1485.5 1066.5,1484.1 1070.4,1478.5 1073.9,1482.0 1078.2,1485.5 1083.1,1486.5 1087.4,1484.1 1091.6,1475.2 1095.9,1477.0 1100.1,1475.6 1103.4,1470.0 1106.8,1484.1 1110.8,1477.8 1114.3,1472.8 1117.8,1459.3 1121.4,1453.7 1125.2,1458.6 1129.2,1458.6 1132.7,1457.2 1136.2,1460.8 1139.5,1466.7 1143.3,1459.3 1146.5,1448.0 1149.3,1445.9 1152.5,1446.6 1155.4,1448.3 1158.6,1445.9" fill="none" stroke="#000" stroke-width="4.7" stroke-linejoin="round" stroke-linecap="butt"/>
<ellipse cx="344.5" cy="1703.3" rx="66.7" ry="183.3" fill="none" stroke="#000" stroke-width="2.3"/>
<text class="a" style="font-size:28.8px" x="347" y="1444.4">First</text>
<text class="a" style="font-size:28.8px" x="347" y="1476.9">Lockdown</text>
<text class="a" style="font-size:28.8px" x="347" y="1509.4">Effect</text>
<ellipse cx="1117.8" cy="1497.3" rx="46.2" ry="103" fill="none" stroke="#000" stroke-width="2.3"/>
<text class="a" style="font-size:28.8px" x="1009.8" y="1395">Second</text>
<text class="a" style="font-size:28.8px" x="1009.8" y="1428.1">Lockdown</text>
<text class="a" style="font-size:28.8px" x="1009.8" y="1461.9">Effect</text>
</svg></body></html>
